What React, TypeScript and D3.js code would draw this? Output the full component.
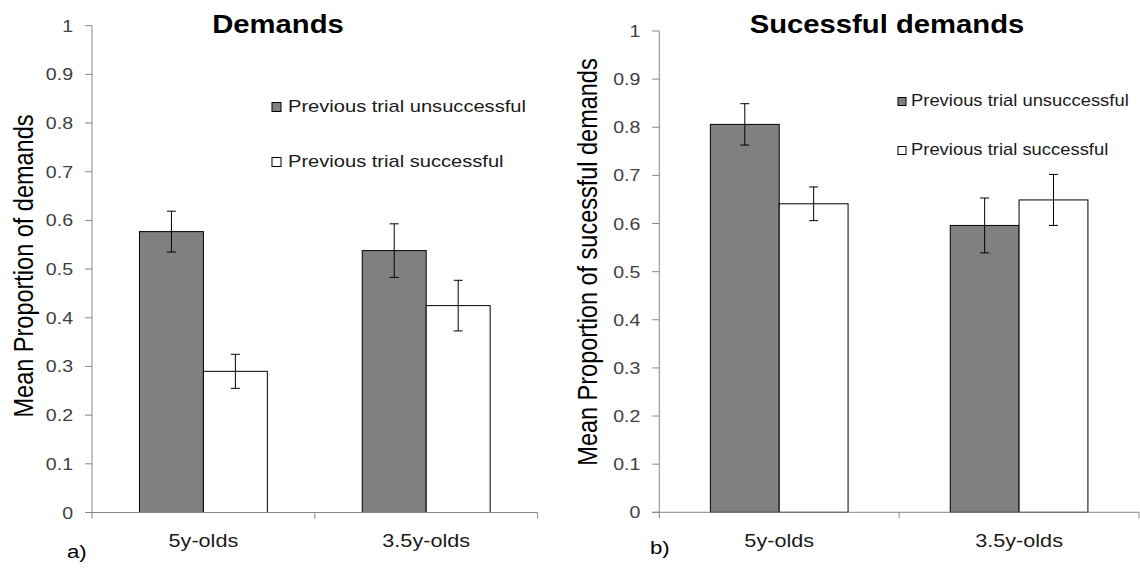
import React from "react";
import * as d3 from "d3";

const categories = ["5y-olds", "3.5y-olds"];
const seriesNames = ["Previous trial unsuccessful", "Previous trial successful"];
const seriesFills = ["#808080", "#ffffff"];

const demandsUnsuccessful = [0.577, 0.538];
const demandsUnsuccessfulErr = [0.042, 0.055];
const demandsSuccessful = [0.29, 0.425];
const demandsSuccessfulErr = [0.035, 0.052];

const sucUnsuccessful = [0.806, 0.596];
const sucUnsuccessfulErr = [0.043, 0.057];
const sucSuccessful = [0.641, 0.649];
const sucSuccessfulErr = [0.035, 0.053];

const yTicks = [0, 0.1, 0.2, 0.3, 0.4, 0.5, 0.6, 0.7, 0.8, 0.9, 1];
const yTickLabels = ["0", "0.1", "0.2", "0.3", "0.4", "0.5", "0.6", "0.7", "0.8", "0.9", "1"];

const FONT = "'Liberation Sans', Arial, sans-serif";
const SX = 1.17;

type PanelProps = {
  x0: number;
  x1: number;
  yTop: number;
  yBottom: number;
  title: string;
  titleX: number;
  yLabel: string;
  yLabelX: number;
  yLabelY: number;
  panelTag: string;
  tagX: number;
  tagY: number;
  values: number[][];
  errors: number[][];
  legendX: number;
  legendTextX: number;
  legendY: number[];
  legendFont: number;
  legendSX: number;
  legendBox: number;
};

function Panel(p: PanelProps) {
  const y = d3.scaleLinear().domain([0, 1]).range([p.yBottom, p.yTop]);
  const xb = d3.scaleBand<string>().domain(categories).range([p.x0, p.x1]).padding(0);
  const sub = d3
    .scaleBand<string>()
    .domain(seriesNames)
    .range([0, xb.bandwidth()])
    .paddingInner(0)
    .paddingOuter(0.742);
  const axisColor = "#878787";
  const capW = 4.5;
  return (
    <g>
      <text
        transform={`translate(${p.titleX},33) scale(${SX},1)`}
        textAnchor="middle"
        fontFamily={FONT}
        fontWeight="bold"
        fontSize={25}
        fill="#000"
      >
        {p.title}
      </text>
      {/* y axis */}
      <line x1={p.x0} x2={p.x0} y1={y(1)} y2={p.yBottom + 6} stroke={axisColor} strokeWidth={1} />
      {yTicks.map((t, i) => (
        <g key={"t" + i}>
          <line x1={p.x0 - 7} x2={p.x0} y1={y(t)} y2={y(t)} stroke={axisColor} strokeWidth={1} />
          <text
            transform={`translate(${p.x0 - 19},${y(t) + 6}) scale(1.15,1)`}
            textAnchor="end"
            fontFamily={FONT}
            fontSize={17}
            fill="#404040"
          >
            {yTickLabels[i]}
          </text>
        </g>
      ))}
      {/* bars */}
      {categories.map((c, ci) => (
        <g key={"c" + ci}>
          {seriesNames.map((s, si) => {
            const v = p.values[si][ci];
            const e = p.errors[si][ci];
            const bx = (xb(c) as number) + (sub(s) as number);
            const bw = sub.bandwidth();
            const cx = bx + bw / 2;
            return (
              <g key={"b" + si}>
                <rect
                  x={bx}
                  y={y(v)}
                  width={bw}
                  height={p.yBottom - y(v)}
                  fill={seriesFills[si]}
                  stroke="#000"
                  strokeWidth={1}
                />
                <line x1={cx} x2={cx} y1={y(v - e)} y2={y(v + e)} stroke="#000" strokeWidth={1} />
                <line x1={cx - capW} x2={cx + capW} y1={y(v - e)} y2={y(v - e)} stroke="#000" strokeWidth={1} />
                <line x1={cx - capW} x2={cx + capW} y1={y(v + e)} y2={y(v + e)} stroke="#000" strokeWidth={1} />
              </g>
            );
          })}
        </g>
      ))}
      {/* x axis */}
      <line x1={p.x0 - 7} x2={p.x1} y1={p.yBottom} y2={p.yBottom} stroke={axisColor} strokeWidth={1} />
      {categories.map((c, ci) => (
        <g key={"x" + ci}>
          <line
            x1={(xb(c) as number) + xb.bandwidth()}
            x2={(xb(c) as number) + xb.bandwidth()}
            y1={p.yBottom}
            y2={p.yBottom + 6}
            stroke={axisColor}
            strokeWidth={1}
          />
          <text
            transform={`translate(${(xb(c) as number) + xb.bandwidth() / 2},546.5) scale(${SX},1)`}
            textAnchor="middle"
            fontFamily={FONT}
            fontSize={18.5}
            fill="#1a1a1a"
          >
            {c}
          </text>
        </g>
      ))}
      {/* y label */}
      <text
        transform={`translate(${p.yLabelX},${p.yLabelY}) rotate(-90) scale(1,${SX})`}
        textAnchor="middle"
        fontFamily={FONT}
        fontSize={23.5}
        fill="#000"
      >
        {p.yLabel}
      </text>
      {/* panel tag */}
      <text
        transform={`translate(${p.tagX},${p.tagY}) scale(${SX},1)`}
        fontFamily={FONT}
        fontSize={19}
        fill="#000"
      >
        {p.panelTag}
      </text>
      {/* legend */}
      {seriesNames.map((s, si) => (
        <g key={"l" + si}>
          <rect
            x={p.legendX}
            y={p.legendY[si] - p.legendBox - 0.5}
            width={p.legendBox}
            height={p.legendBox}
            fill={seriesFills[si]}
            stroke="#000"
            strokeWidth={1}
          />
          <text
            transform={`translate(${p.legendTextX},${p.legendY[si]}) scale(${p.legendSX},1)`}
            fontFamily={FONT}
            fontSize={p.legendFont}
            fill="#1a1a1a"
          >
            {s}
          </text>
        </g>
      ))}
    </g>
  );
}

export default function App() {
  return (
    <svg
      width={1140}
      height={569}
      style={{ position: "absolute", left: 0, top: 0, background: "#fff" }}
    >
      <rect x={0} y={0} width={1140} height={569} fill="#fff" />
      <Panel
        x0={92}
        x1={537.6}
        yTop={25.7}
        yBottom={512.5}
        title="Demands"
        titleX={278}
        yLabel="Mean Proportion of demands"
        yLabelX={33}
        yLabelY={266}
        panelTag="a)"
        tagX={67}
        tagY={558}
        values={[demandsUnsuccessful, demandsSuccessful]}
        errors={[demandsUnsuccessfulErr, demandsSuccessfulErr]}
        legendX={272}
        legendTextX={288}
        legendY={[112, 167]}
        legendFont={17}
        legendSX={1.183}
        legendBox={9}
      />
      <Panel
        x0={659.3}
        x1={1139}
        yTop={31}
        yBottom={512.3}
        title="Sucessful demands"
        titleX={887}
        yLabel="Mean Proportion of sucessful demands"
        yLabelX={597}
        yLabelY={262}
        panelTag="b)"
        tagX={650}
        tagY={554}
        values={[sucUnsuccessful, sucSuccessful]}
        errors={[sucUnsuccessfulErr, sucSuccessfulErr]}
        legendX={898}
        legendTextX={911}
        legendY={[106, 155]}
        legendFont={16}
        legendSX={1.15}
        legendBox={8}
      />
    </svg>
  );
}
